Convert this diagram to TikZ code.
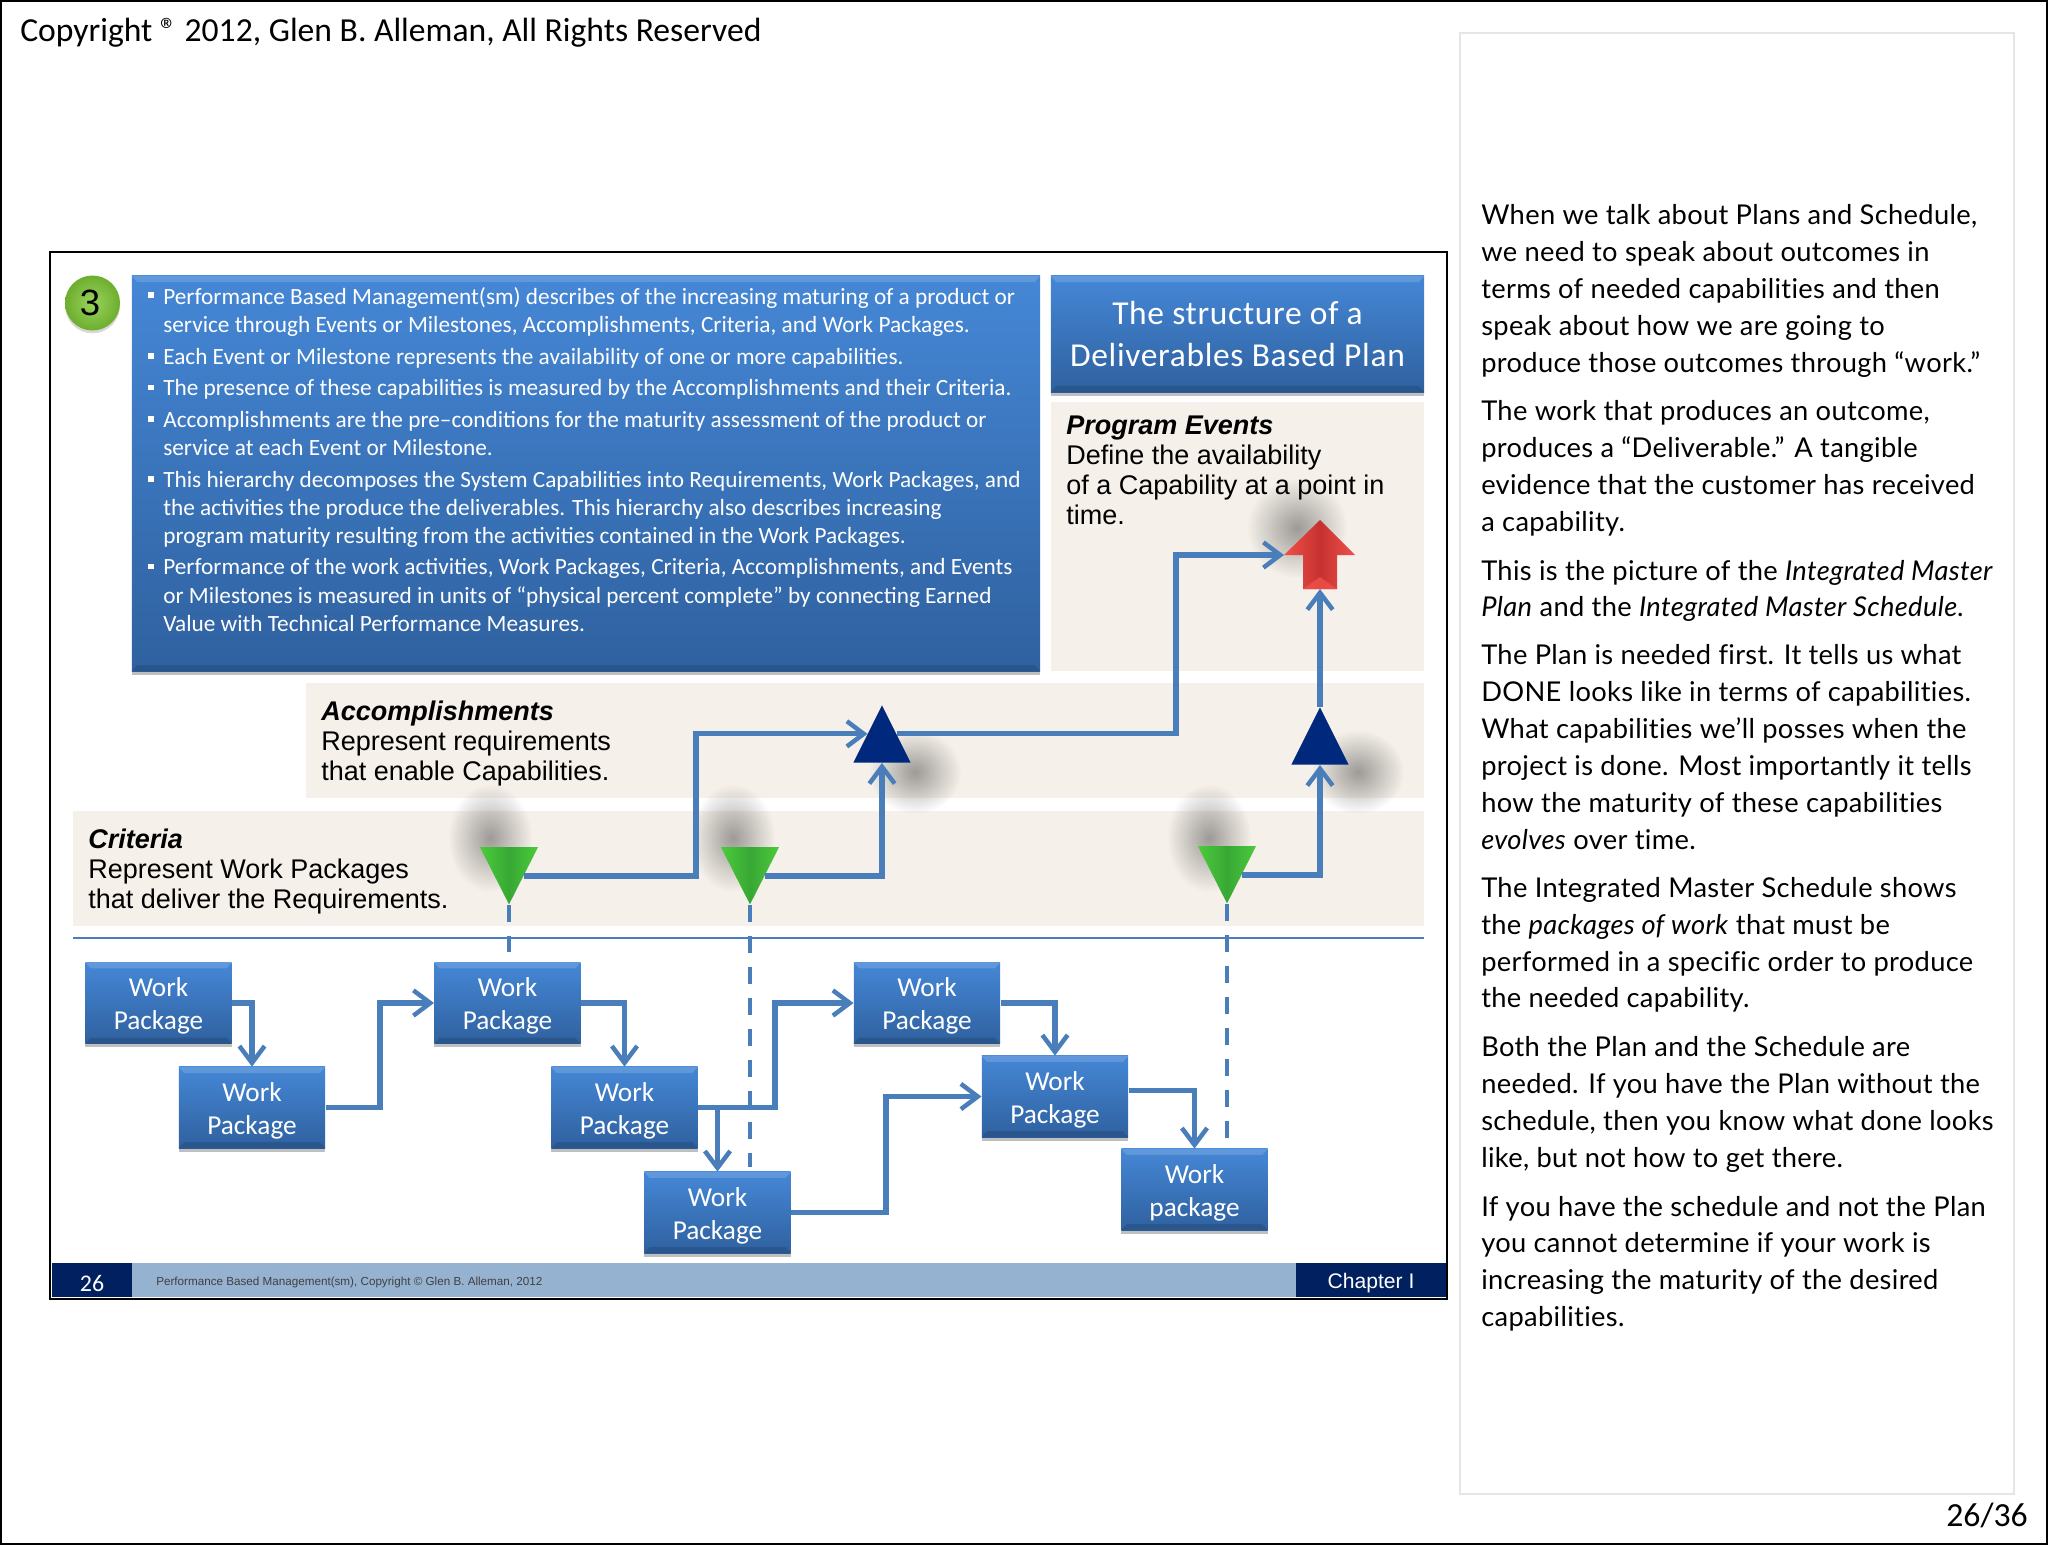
\documentclass[tikz,border=0pt]{standalone}
\usepackage{fontspec}
\setmainfont{Carlito}
\newfontfamily\arialfont{Liberation Sans}
\newfontfamily\parafont{Lato}[LetterSpace=1.2,Ligatures=NoCommon]
\usetikzlibrary{arrows.meta,shapes.geometric,shadows,fadings,calc}
\definecolor{flowblue}{HTML}{4A7EBB}
\definecolor{bandbeige}{HTML}{F5F0E9}
\definecolor{boxtop}{HTML}{4587D6}
\definecolor{boxbot}{HTML}{2F619F}
\definecolor{navybar}{HTML}{002060}
\definecolor{navytri}{HTML}{00287C}
\definecolor{paleblue}{HTML}{95B3D0}
\definecolor{critedge}{HTML}{4CCB3C}
\definecolor{critmid}{HTML}{38A835}
\definecolor{redlight}{HTML}{F0504A}
\definecolor{reddark}{HTML}{C63230}
\definecolor{ballin}{HTML}{9AD45C}
\definecolor{ballout}{HTML}{6DAE2E}
\newcommand{\fsz}[2]{\fontsize{#1}{#2}\selectfont}
\newcommand{\wplab}[1]{\rule{0pt}{17.8pt}Work\\#1}
\tikzfading[name=softspot,inner color=transparent!48,outer color=transparent!100]
\tikzset{
  flow/.style={draw=flowblue,line width=3.6pt},
  dashflow/.style={draw=flowblue,line width=3.2pt,dash pattern=on 12pt off 10pt},
  band/.style={fill=bandbeige,draw=none},
  bluebox/.style={top color=boxtop,bottom color=boxbot,draw=none,inner sep=0pt,text=white,align=center,
    drop shadow={shadow xshift=0pt,shadow yshift=-2.5pt,opacity=.25,fill=black}},
  wpbox/.style={bluebox,minimum width=3.66cm,minimum height=2.03cm,font=\fsz{19.4}{23.5}},
  crit/.style={isosceles triangle,isosceles triangle stretches,shape border rotate=-90,inner sep=0pt,draw=none,
    minimum width=1.45cm,minimum height=1.43cm,left color=critedge,right color=critedge,middle color=critmid},
  acc/.style={isosceles triangle,isosceles triangle stretches,shape border rotate=90,inner sep=0pt,draw=none,
    minimum width=1.43cm,minimum height=1.43cm,fill=navytri},
  eventshape/.style={left color=redlight,right color=redlight,middle color=reddark,draw=none},
  spot/.style={fill=black!70,path fading=softspot,draw=none},
  bandhead/.style={font=\arialfont\fsz{19.2}{21.3},align=left,anchor=north west,inner sep=0pt,text=black},
  bulletmark/.style={fill=white,inner sep=0pt,minimum size=3.6pt,draw=none},
  bullettext/.style={font=\fsz{16.55}{20},align=left,anchor=north west,inner sep=0pt,text=white},
  paratext/.style={font=\parafont\fsz{19.4}{26.2},align=left,anchor=north west,inner sep=0pt,text=black},
  bevelup/.style={fill=white,opacity=.15},
  beveldown/.style={fill=black,opacity=.12},
  barbox/.style={fill=navybar,draw=none,inner sep=0pt}
}
\begin{document}
\begin{tikzpicture}[x=0.025cm,y=-0.025cm,>={Straight Barb[length=12pt,width=18pt,line width=3.2pt]}]
\useasboundingbox (0,0) rectangle (2048,1545);
\fill[white] (0,0) rectangle (2048,1545);
\draw[line width=1.6pt] (1,1) rectangle (2047,1544);
\node[anchor=west,inner sep=0pt,font=\fsz{23.9}{28}] (head) at (20,33) {Copyright ® 2012, Glen B. Alleman, All Rights Reserved};
\node[anchor=east,inner sep=0pt,font=\fsz{24}{28}] (pageno) at (2028,1515) {26/36};
\draw[black!10,line width=.8pt] (1460,33) rectangle (2014,1494);
% slide frame and bands
\fill[band] (1051,402) rectangle (1424,671);
\fill[band] (306,683) rectangle (1424,798);
\fill[band] (73,811) rectangle (1424,926);
\draw[flowblue,line width=1.3pt] (73,938) -- (1424,938);
\fill[spot] (1297,528) ellipse (50 and 50);
\fill[spot] (915,772) ellipse (46 and 42);
\fill[spot] (1358,772) ellipse (46 and 42);
\fill[spot] (490,838) ellipse (42 and 54);
\fill[spot] (733,838) ellipse (42 and 54);
\fill[spot] (1209,838) ellipse (42 and 54);
% boxes
\node[bluebox,minimum width=22.7cm,minimum height=9.88cm] (textbox) at (586,473.5) {};
\node[bluebox,minimum width=9.33cm,minimum height=2.9cm,font=\addfontfeature{LetterSpace=2}\fsz{23.8}{30}] (title) at (1237.5,334) {The structure of a\\Deliverables Based Plan};
\node[wpbox] (wpA) at (158.5,1003) {\wplab{Package}};
\node[wpbox] (wpB) at (252,1107.5) {\wplab{Package}};
\node[wpbox] (wpC) at (507.5,1003) {\wplab{Package}};
\node[wpbox] (wpD) at (624.5,1107.5) {\wplab{Package}};
\node[wpbox] (wpE) at (717.5,1212.5) {\wplab{Package}};
\node[wpbox] (wpF) at (927,1003) {\wplab{Package}};
\node[wpbox] (wpG) at (1055,1096.5) {\wplab{Package}};
\node[wpbox] (wpH) at (1194.5,1189.5) {\wplab{package}};
\foreach \n in {textbox,title,wpA,wpB,wpC,wpD,wpE,wpF,wpG,wpH} {
  \fill[bevelup] (\n.north west) -- (\n.north east) -- ([xshift=-4pt,yshift=-4.5pt]\n.north east) -- ([xshift=4pt,yshift=-4.5pt]\n.north west) -- cycle;
  \fill[beveldown] (\n.south west) -- (\n.south east) -- ([xshift=-4pt,yshift=4.5pt]\n.south east) -- ([xshift=4pt,yshift=4.5pt]\n.south west) -- cycle;
}
% milestones
\node[crit] (critA) at (509,865) {};
\node[crit] (critB) at (750,865) {};
\node[crit] (critC) at (1227,864) {};
\node[acc] (accA) at (882,745) {};
\node[acc] (accB) at (1320,747) {};
\coordinate (evTip) at (1320,520);
\coordinate (evHead) at (1284,555);
\coordinate (evTail) at (1320,589);
\shade[eventshape] (evTip) -- (1355,555) -- (1337,555) -- (1337,589) -- (1303,589) -- (1303,555) -- (evHead) -- cycle;
\fill[redlight,opacity=.8] (1303,589) -- (1320,577) -- (1337,589) -- cycle;
\coordinate (bendA) at (696,800);
\coordinate (bendB) at (1176,700);
\coordinate (accAwest) at ($(accA.left corner)!.5!(accA.apex)$);
\coordinate (accAeast) at ($(accA.right corner)!.5!(accA.apex)$);
\draw[flow,->] ($(critA.left corner)!.5!(critA.apex)$) -| (bendA) |- (accAwest);
\draw[flow,->] ($(critB.left corner)!.5!(critB.apex)$) -| (accA.south);
\draw[flow,->] ($(critC.left corner)!.5!(critC.apex)$) -| (accB.south);
\draw[flow,->] (accAeast) -| (bendB) |- (evHead);
\draw[flow,->] (accB.apex) -- (evTail);
\draw[dashflow] (critA.apex) -- ($(critA.apex |- wpC.north)+(0,-10)$);
\draw[dashflow] (critB.apex) -- ($(critB.apex |- wpE.north)+(0,-5)$);
\draw[dashflow] (critC.apex) -- (critC.apex |- wpH.north);
% work flow
\coordinate (bendC) at (380,1107.5);
\coordinate (bendD) at (775,1107.5);
\coordinate (bendE) at (886,1212.5);
\draw[flow,->] (wpA.east) -| (wpB.north);
\draw[flow,->] (wpB.east) -- (bendC) |- (wpC.west);
\draw[flow,->] (wpC.east) -| (wpD.north);
\draw[flow,->] (wpD.east) -- (bendD) |- (wpF.west);
\draw[flow,->] (wpD.east) -| (wpE.north);
\draw[flow,->] (wpE.east) -- (bendE) |- (wpG.west);
\draw[flow,->] (wpF.east) -| (wpG.north);
\draw[flow,->] ([yshift=4pt]wpG.east) -| (wpH.north);
% band labels
\node[bandhead] (evText) at (1066,416) {\textbf{\textit{Program Events}}\\Define the availability\\of a Capability at a point in\\time.};
\node[bandhead] (accText) at (321,701) {\textbf{\textit{Accomplishments}}\\Represent requirements\\that enable Capabilities.};
\node[bandhead] (critText) at (88,829) {\textbf{\textit{Criteria}}\\Represent Work Packages\\that deliver the Requirements.};
% numbered ball
\shade[inner color=ballin,outer color=ballout,drop shadow={opacity=.3,shadow xshift=0pt,shadow yshift=-2pt}] (92.5,303) circle (27.5);
\node[inner sep=0pt,font=\arialfont\fsz{26}{28}] (num) at (90,303) {3};
\foreach \n/\yy/\txt in {
  a/296/{Performance Based Management(sm) describes of the increasing maturing of a product or\\service through Events or Milestones, Accomplishments, Criteria, and Work Packages.},
  b/357/{Each Event or Milestone represents the availability of one or more capabilities.},
  c/388.5/{The presence of these capabilities is measured by the Accomplishments and their Criteria.},
  d/420/{Accomplishments are the pre–conditions for the maturity assessment of the product or\\service at each Event or Milestone.},
  e/480/{This hierarchy decomposes the System Capabilities into Requirements, Work Packages, and\\the activities the produce the deliverables. This hierarchy also describes increasing\\program maturity resulting from the activities contained in the Work Packages.},
  f/567.5/{Performance of the work activities, Work Packages, Criteria, Accomplishments, and Events\\or Milestones is measured in units of “physical percent complete” by connecting Earned\\Value with Technical Performance Measures.}} {
  \node[bulletmark] (mark\n) at (151,\yy-1) {};
  \node[bullettext] (bul\n) at (163,\yy-9) {\txt};
}
% right column
\foreach \n/\yy/\txt in {
  a/{215.5}/{When we talk about Plans and Schedule,\\we need to speak about outcomes in\\terms of needed capabilities and then\\speak about how we are going to\\produce those outcomes through “work.”},
  b/{411.4}/{The work that produces an outcome,\\produces a “Deliverable.” A tangible\\evidence that the customer has received\\a capability.},
  c/{570.7}/{This is the picture of the \textit{Integrated Master}\\\textit{Plan} and the \textit{Integrated Master Schedule}.},
  d/{655.6}/{The Plan is needed first. It tells us what\\DONE looks like in terms of capabilities.\\What capabilities we’ll posses when the\\project is done. Most importantly it tells\\how the maturity of these capabilities\\\textit{evolves} over time.},
  e/{888}/{The Integrated Master Schedule shows\\the \textit{packages of work} that must be\\performed in a specific order to produce\\the needed capability.},
  f/{1047.4}/{Both the Plan and the Schedule are\\needed. If you have the Plan without the\\schedule, then you know what done looks\\like, but not how to get there.},
  g/{1206.7}/{If you have the schedule and not the Plan\\you cannot determine if your work is\\increasing the maturity of the desired\\capabilities.}} {
  \node[paratext] (para\n) at (1481,\yy-11) {\txt};
}
% footer
\fill[paleblue] (52,1263) rectangle (1296,1297);
\node[barbox,minimum width=2cm,minimum height=.85cm,text=white,font=\fsz{17}{20}] (barnum) at (92,1280) {\rule{0pt}{15.8pt}26};
\node[barbox,minimum width=3.75cm,minimum height=.85cm,text=white,font=\arialfont\fsz{15}{20}] (barchap) at (1371,1280) {\rule{0pt}{15pt}Chapter I};
\node[anchor=west,inner sep=0pt,text=black!75,font=\arialfont\fsz{8.3}{10}] (barnote) at (156,1282) {Performance Based Management(sm), Copyright © Glen B. Alleman, 2012};
\draw[line width=2pt] (50,252) rectangle (1447,1299);
\end{tikzpicture}
\end{document}
